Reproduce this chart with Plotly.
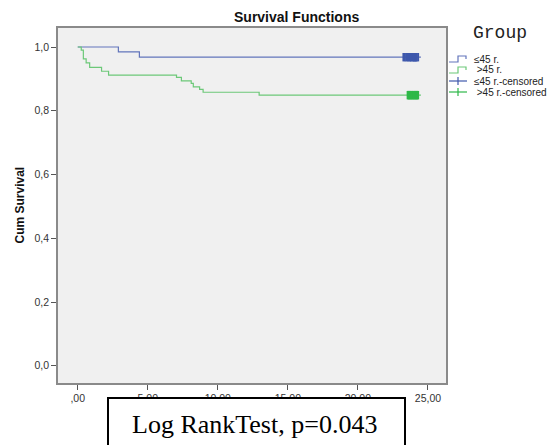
import plotly.graph_objects as go

# Kaplan-Meier step estimates per group (time, cumulative survival)
le45_time = [0.0, 2.9, 4.4]
le45_surv = [1.0, 0.985, 0.968]
le45_censored = [23.25, 23.35, 23.45, 23.55, 23.6, 23.7, 23.75, 23.8, 23.9,
                 23.95, 24.0, 24.05, 24.1, 24.15, 24.2, 24.3]

gt45_time = [0.0, 0.25, 0.4, 0.6, 0.85, 1.7, 2.2, 7.05, 7.4, 8.1, 8.25, 8.7, 8.95, 12.95]
gt45_surv = [1.0, 0.99, 0.963, 0.95, 0.936, 0.924, 0.912, 0.905, 0.894, 0.886,
             0.875, 0.867, 0.858, 0.849]
gt45_censored = [23.55, 23.6, 23.65, 23.7, 23.75, 23.8, 23.85, 23.9, 23.95,
                 24.0, 24.05, 24.1, 24.15, 24.2, 24.25, 24.3]

group_names = ["\u226445 r.", " >45 r.", "\u226445 r.-censored", " >45 r.-censored"]

x_tickvals = [0, 5, 10, 15, 20, 25]
x_ticktext = [",00", "5,00", "10,00", "15,00", "20,00", "25,00"]
y_tickvals = [0.0, 0.2, 0.4, 0.6, 0.8, 1.0]
y_ticktext = ["0,0", "0,2", "0,4", "0,6", "0,8", "1,0"]

BLUE_LINE = "#6275bb"
GREEN_LINE = "#6cc878"
BLUE_MARK = "#3e58ac"
GREEN_MARK = "#2eb848"

W, H = 559, 445
L, R, T, B = 58, 446, 28, 383


def px(xp):
    return (xp - L) / (R - L)


def py(yp):
    return (B - yp) / (B - T)


fig = go.Figure()


def add_group(times, surv, cens, line_color, mark_color):
    end = max(cens) + 0.2
    fig.add_trace(go.Scatter(
        x=times + [end], y=surv + [surv[-1]], mode="lines",
        line=dict(color=line_color, width=1.2, shape="hv"),
        showlegend=False, hoverinfo="skip"))
    fig.add_trace(go.Scatter(
        x=cens, y=[surv[-1]] * len(cens), mode="markers",
        marker=dict(symbol="line-ns", size=6,
                    line=dict(color=mark_color, width=2)),
        showlegend=False, hoverinfo="skip"))


add_group(le45_time, le45_surv, le45_censored, BLUE_LINE, BLUE_MARK)
add_group(gt45_time, gt45_surv, gt45_censored, GREEN_LINE, GREEN_MARK)

axis_font = dict(family="Liberation Sans, Arial", size=10.5, color="#333333")

fig.update_xaxes(
    range=[-1.41, 26.29], tickvals=x_tickvals, ticktext=x_ticktext,
    ticks="outside", ticklen=5, tickwidth=1, tickcolor="#555555",
    showline=True, linecolor="#8a8a8a", linewidth=1.5, mirror=True,
    showgrid=False, zeroline=False, tickfont=axis_font)
fig.update_yaxes(
    range=[-0.054, 1.0596], tickvals=y_tickvals, ticktext=y_ticktext,
    ticks="outside", ticklen=5, tickwidth=1, tickcolor="#555555",
    showline=True, linecolor="#8a8a8a", linewidth=1.5, mirror=True,
    showgrid=False, zeroline=False, tickfont=axis_font)

annotations = [
    dict(text="<b>Survival Functions</b>", x=px(296), y=py(17), xref="paper", yref="paper",
         showarrow=False, xanchor="center", yanchor="middle",
         font=dict(family="Liberation Sans, Arial", size=14, color="#111111")),
    dict(text="<b>Cum Survival</b>", x=px(19), y=0.5, xref="paper", yref="paper",
         showarrow=False, textangle=-90, xanchor="center", yanchor="middle",
         font=dict(family="Liberation Sans, Arial", size=12, color="#111111")),
    dict(text="Group", x=px(471), y=py(33), xref="paper", yref="paper",
         showarrow=False, xanchor="left", yanchor="middle",
         font=dict(family="Liberation Mono, Courier New", size=18, color="#222222")),
    dict(text="Log RankTest, p=0.043", x=px(254), y=py(424), xref="paper", yref="paper",
         showarrow=False, xanchor="center", yanchor="middle",
         font=dict(family="Liberation Serif, Times New Roman", size=26, color="#000000")),
]

shapes = []

# legend entries: step glyph for curves, cross glyph for censored marks
legend_rows = [59.0, 70.0, 81.0, 92.0]
glyph_colors = [BLUE_LINE, GREEN_LINE, BLUE_MARK, GREEN_MARK]
for i, (row, name, col) in enumerate(zip(legend_rows, group_names, glyph_colors)):
    if i < 2:
        path = (f"M {px(449)} {py(row + 3)} L {px(458)} {py(row + 3)} "
                f"L {px(458)} {py(row - 3)} L {px(466)} {py(row - 3)} "
                f"L {px(466)} {py(row)}")
        shapes.append(dict(type="path", path=path, xref="paper", yref="paper",
                           line=dict(color=col, width=1.2)))
    else:
        shapes.append(dict(type="line", xref="paper", yref="paper",
                           x0=px(449), x1=px(467), y0=py(row), y1=py(row),
                           line=dict(color=col, width=1.2)))
        shapes.append(dict(type="line", xref="paper", yref="paper",
                           x0=px(458), x1=px(458), y0=py(row - 4), y1=py(row + 4),
                           line=dict(color=col, width=1.2)))
    annotations.append(dict(
        text=name, x=px(472), y=py(row), xref="paper", yref="paper",
        showarrow=False, xanchor="left", yanchor="middle",
        font=dict(family="Liberation Sans, Arial", size=10, color="#222222")))

# test result box overlapping the lower edge
shapes.append(dict(type="rect", xref="paper", yref="paper", layer="above",
                   x0=px(108), x1=px(405), y0=py(470), y1=py(398),
                   line=dict(color="#000000", width=2), fillcolor="#ffffff"))

fig.update_layout(
    width=W, height=H,
    margin=dict(l=L, r=W - R, t=T, b=H - B, pad=0),
    paper_bgcolor="#ffffff", plot_bgcolor="#f0f0f0",
    showlegend=False, annotations=annotations, shapes=shapes)

fig.write_html("out.html")
